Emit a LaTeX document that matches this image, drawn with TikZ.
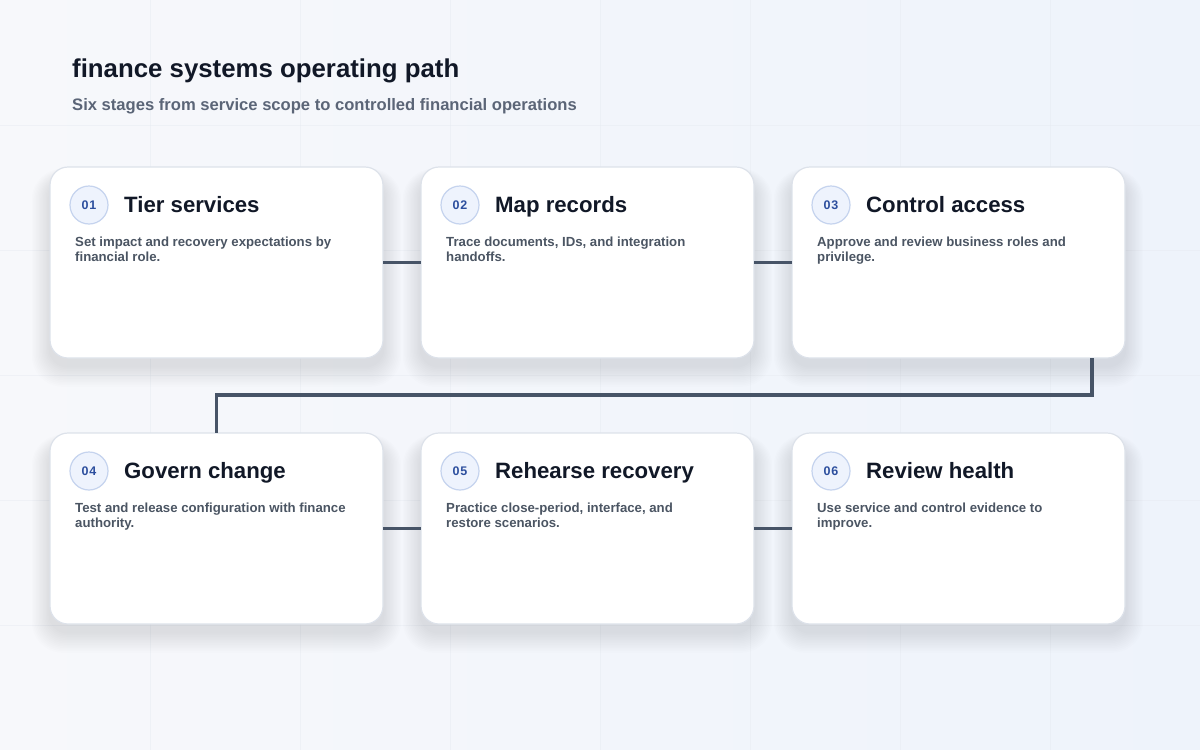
\documentclass[tikz,border=0pt]{standalone}
\usepackage{fontspec}
\setmainfont{Liberation Sans}
\usetikzlibrary{positioning,calc}
\definecolor{bgA}{HTML}{F7F8FB}
\definecolor{bgB}{HTML}{EEF3FB}
\definecolor{gridc}{HTML}{E6EAF1}
\definecolor{cardborder}{HTML}{DDE2EA}
\definecolor{linec}{HTML}{475467}
\definecolor{titlec}{HTML}{111827}
\definecolor{subc}{HTML}{5B6577}
\definecolor{descc}{HTML}{4B5563}
\definecolor{badgefill}{HTML}{EEF3FD}
\definecolor{badgeborder}{HTML}{C5D3EE}
\definecolor{badgetext}{HTML}{2D4F9E}
\definecolor{shadowc}{HTML}{1E2A4A}
\tikzset{
  card/.style={draw=cardborder, line width=1.2pt, fill=white, rounded corners=18pt,
    minimum width=333pt, minimum height=191pt, inner sep=0pt, outer sep=0pt},
  badge/.style={circle, draw=badgeborder, line width=1.2pt, fill=badgefill,
    minimum size=38pt, inner sep=0pt, text=badgetext,
    font=\fontsize{12.5}{14}\selectfont\bfseries},
  cardtitle/.style={anchor=base west, inner sep=0pt, text=titlec,
    font=\fontsize{22.2}{26}\selectfont\bfseries},
  carddesc/.style={anchor=north west, inner sep=0pt, text=descc, align=left,
    font=\fontsize{13.2}{15}\selectfont\bfseries},
  conn/.style={draw=linec, line width=3.5pt},
}
\newcommand{\stagecard}[6]{%
  % #1 name, #2 x, #3 y (NW corner), #4 number, #5 title, #6 desc
  \foreach \k in {2,4,...,26}{
    \fill[shadowc, opacity=0.0065, rounded corners=18pt+\k*0.5pt]
      ($(#2,#3)+(-\k*0.7,-\k*0.4+12)$) rectangle ($(#2,#3)+(333+\k*0.7,191+\k*0.8+8)$);
  }
  \node[card, anchor=north west] (#1) at (#2,#3) {};
  \node[badge] (#1b) at ($(#1.north west)+(39,38)$) {\addfontfeature{LetterSpace=6}#4};
  \node[cardtitle] (#1t) at ($(#1.north west)+(74,45)$) {#5};
  \node[carddesc] (#1d) at ($(#1.north west)+(25,69.5)$) {#6};
}
\begin{document}
\begin{tikzpicture}[x=1pt,y=-1pt]
\useasboundingbox (0,0) rectangle (1200,750);
\shade[left color=bgA, right color=bgB] (0,0) rectangle (1200,750);
\foreach \gx in {150,300,...,1050} \draw[gridc, line width=0.6pt, opacity=0.45] (\gx,0) -- (\gx,750);
\foreach \gy in {125,250,...,625} \draw[gridc, line width=0.6pt, opacity=0.45] (0,\gy) -- (1200,\gy);

\node[anchor=base west, inner sep=0pt, text=titlec, font=\fontsize{25.8}{30}\selectfont\bfseries] (title) at (72,77) {finance systems operating path};
\node[anchor=base west, inner sep=0pt, text=subc, font=\fontsize{16.6}{19}\selectfont\bfseries] (subtitle) at (72,110) {Six stages from service scope to controlled financial operations};

\stagecard{c1}{50}{167}{01}{Tier services}{Set impact and recovery expectations by\\financial role.}
\stagecard{c2}{421}{167}{02}{Map records}{Trace documents, IDs, and integration\\handoffs.}
\stagecard{c3}{792}{167}{03}{Control access}{Approve and review business roles and\\privilege.}
\stagecard{c4}{50}{433}{04}{Govern change}{Test and release configuration with finance\\authority.}
\stagecard{c5}{421}{433}{05}{Rehearse recovery}{Practice close-period, interface, and\\restore scenarios.}
\stagecard{c6}{792}{433}{06}{Review health}{Use service and control evidence to\\improve.}

\coordinate (bend) at (1092,395);
\draw[conn] (c1.east) -- (c2.west);
\draw[conn] (c2.east) -- (c3.west);
\draw[conn] (c3.south -| bend) -- (bend) -| (c4.north);
\draw[conn] (c4.east) -- (c5.west);
\draw[conn] (c5.east) -- (c6.west);
\end{tikzpicture}
\end{document}
